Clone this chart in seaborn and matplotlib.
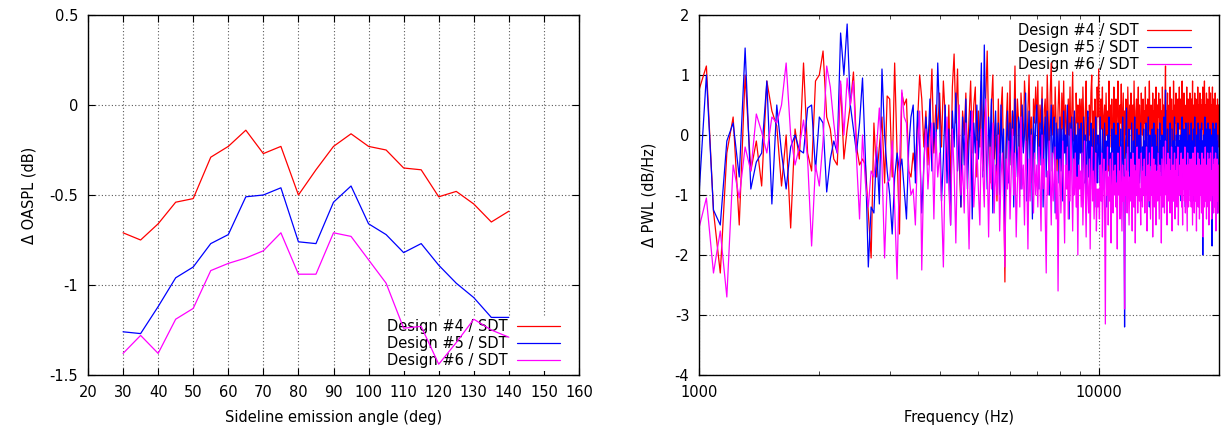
import numpy as np
import pandas as pd
import matplotlib
matplotlib.use("Agg")
import matplotlib.pyplot as plt
import matplotlib.ticker as mticker
import seaborn as sns

# ---- left panel: OASPL difference vs sideline angle ----
angles = [30, 35, 40, 45, 50, 55, 60, 65, 70, 75, 80, 85, 90, 95, 100, 105, 110, 115, 120, 125, 130, 135, 140]
oaspl_d4 = [-0.71, -0.75, -0.66, -0.54, -0.52, -0.29, -0.23, -0.14, -0.27, -0.23, -0.50, -0.36, -0.23,
            -0.16, -0.23, -0.25, -0.35, -0.36, -0.51, -0.48, -0.55, -0.65, -0.59]
oaspl_d5 = [-1.26, -1.27, -1.12, -0.96, -0.90, -0.77, -0.72, -0.51, -0.50, -0.46, -0.76, -0.77, -0.54,
            -0.45, -0.66, -0.72, -0.82, -0.77, -0.89, -0.99, -1.07, -1.18, -1.18]
oaspl_d6 = [-1.38, -1.28, -1.38, -1.19, -1.13, -0.92, -0.88, -0.85, -0.81, -0.71, -0.94, -0.94, -0.71,
            -0.73, -0.86, -0.99, -1.24, -1.23, -1.44, -1.32, -1.19, -1.25, -1.29]

# ---- right panel: PWL difference spectra (23 bins per kHz, 1 kHz .. 20 kHz) ----
freq = np.linspace(1000, 20000, 438)

pwl_d4 = [
    0.75, 1.15, -1.27, -2.3, -0.3, 0.3, -1.5, 1.0, -0.6, -0.1, -0.85, 0.9, 0.4, 0.15, -0.85, 0.0, -1.55, 0.1, -0.4, 1.2, -0.3, -0.6, 0.9,
    1.0, 1.4, 0.3, 0.1, -0.4, -0.5, 0.85, -0.4, 0.1, 0.5, 1.05, -0.2, -0.5, -0.4, -0.5, -1.3, -2.05, 0.2, -0.7, -0.2, 0.3, -0.8, 0.65,
    0.6, -0.7, 1.2, -0.3, -1.65, 0.7, 0.5, 0.6, -0.6, -0.7, -0.3, -0.6, 0.2, 1.0, 0.6, -0.2, 0.4, -0.5, 0.3, 1.1, -0.3, 0.5, 0.1,
    0.7, -0.2, 0.9, 0.3, -0.6, 0.5, -0.9, 0.8, 1.35, 0.2, 1.1, -0.4, -1.2, 0.4, 0.0, 0.7, -0.5, 0.3, 0.9, -0.3, 0.5, 0.8, -0.7,
    0.4, -0.2, 0.9, -0.6, 0.3, 0.6, 1.4, 0.1, -0.8, 0.5, 1.0, -0.4, 0.2, -1.1, 0.6, -0.3, 0.4, 0.8, -0.6, -2.45, 0.2, 0.7, -0.5,
    0.9, -0.5, 0.4, 0.0, 1.15, -0.3, 0.6, 0.2, -0.9, 0.7, 0.3, -0.2, 0.9, 0.5, -0.6, 0.4, 1.0, -0.1, 0.3, -0.8, 0.6, 0.2, 0.8,
    0.2, 0.9, -0.4, 0.5, 0.1, 0.8, -0.7, 0.4, 0.6, -0.2, 1.0, 0.3, -0.5, 0.7, 1.2, 0.0, 0.5, -0.3, 0.8, 0.2, -0.6, 0.4, 0.9,
    0.3, -0.4, 0.7, 0.1, 0.9, -0.2, 0.5, 0.2, -0.9, 0.6, 0.0, 0.8, -0.3, 0.4, 1.05, -0.1, 0.3, -0.6, 0.7, 0.2, 0.5, -0.4, 0.6,
    0.1, 0.6, -0.3, 0.8, 0.2, -0.5, 0.4, 0.9, -0.1, 0.3, -0.6, 0.5, 0.0, 0.7, 1.0, -0.2, 0.4, -0.7, 0.6, 0.2, -0.3, 0.8, 0.3,
    1.1, 0.2, -0.3, 0.6, 0.1, 0.8, -0.4, 0.3, 0.5, -0.1, 0.7, 0.0, 0.4, -0.6, 0.9, 0.2, 0.5, -0.2, 0.6, 0.1, -0.5, 0.8, 0.3,
    0.0, 0.6, -0.3, 0.4, 0.9, 0.1, -0.4, 0.5, 0.2, 0.85, -0.1, 0.3, 0.7, -0.5, 0.4, 0.0, 0.6, 0.2, -0.3, 0.8, 0.3, -0.2, 0.5,
    0.1, 0.7, -0.4, 0.3, 0.5, -0.1, 0.9, 0.2, -0.6, 0.4, 0.6, 0.0, 0.3, 0.8, -0.3, 0.5, 0.1, -0.2, 0.7, 0.3, 0.0, 0.6, -0.4,
    0.4, 0.2, 0.8, -0.2, 0.5, 0.0, 0.6, -0.5, 0.3, 0.9, 0.1, -0.1, 0.5, 0.3, -0.4, 0.7, 0.2, 0.4, -0.3, 0.6, 0.0, 0.8, 0.1,
    -0.2, 0.5, 0.3, 0.7, -0.4, 0.2, 0.6, 0.0, 0.4, -0.3, 0.8, 0.1, 0.5, -0.1, 0.3, 0.6, 1.15, -0.2, 0.4, 0.2, 0.7, -0.5, 0.3,
    0.5, 0.0, 0.8, 0.2, -0.3, 0.6, 0.1, 0.4, -0.2, 0.9, 0.3, -0.5, 0.5, 0.2, 0.7, -0.1, 0.4, 0.0, 0.6, -0.4, 0.3, 0.8, 0.1,
    0.2, 0.6, -0.3, 0.4, 0.9, 0.0, 0.3, -0.2, 0.7, 0.2, 0.5, -0.5, 0.4, 0.1, 0.8, -0.1, 0.3, 0.6, 0.0, 0.5, -0.3, 0.7, 0.2,
    0.4, -0.1, 0.6, 0.3, 0.9, -0.4, 0.2, 0.5, 0.0, 0.7, 0.3, -0.2, 0.6, 0.1, 0.4, -0.5, 0.8, 0.2, 0.5, -0.1, 0.3, 0.7, 0.0,
    0.6, 0.2, -0.3, 0.5, 0.1, 0.8, 0.3, -0.2, 0.4, 0.9, 0.0, 0.5, -0.4, 0.3, 0.7, 0.1, -0.1, 0.6, 0.2, 0.4, -0.3, 0.8, 0.2,
    0.3, 0.7, -0.2, 0.5, 0.0, 0.4, 0.8, -0.4, 0.2, 0.6, 0.1, 0.3, -0.1, 0.7, 0.2, 0.5, -0.3, 0.4, 0.0, 0.6, 0.2, -0.2, 0.5,
    0.3,
]

pwl_d5 = [
    -1.0, 1.0, -1.25, -1.5, -0.1, 0.2, -0.7, 1.45, -0.9, -0.45, -0.3, 0.9, -1.15, 0.5, -0.3, -0.9, -0.2, 0.0, -0.25, -0.3, 0.45, 0.5, -0.6,
    0.3, 0.2, -0.95, -0.4, -0.1, -0.3, 1.7, 1.0, 1.85, 0.5, 0.1, -0.3, 0.2, 0.95, -0.4, -2.2, -1.2, -1.3, -0.2, -1.15, 1.1, 0.0, -0.6,
    -1.0, -1.65, -0.7, -0.3, -0.6, -0.4, -0.9, -1.4, -0.2, 0.3, 0.5, -0.8, 0.4, -0.2, -1.3, -0.5, 0.3, -0.2, 0.6, -0.6, 0.2, -0.3, 1.2,
    0.3, -1.1, -0.4, 0.5, -0.8, 0.1, -1.5, 0.4, -0.2, 0.7, -0.6, 0.0, -1.2, 0.3, -0.5, 0.6, -0.9, -0.1, 0.4, -1.4, 0.2, -0.3, 0.5,
    -0.4, 0.2, 1.2, -0.7, 1.5, 0.1, -0.9, 0.3, -0.2, 0.6, -1.3, -0.1, 0.4, -0.6, 0.2, -1.0, 0.5, -0.3, 0.1, -1.6, -0.2, 0.4, -0.8,
    0.2, -0.5, 0.4, -1.2, 0.6, -0.1, -0.7, 0.3, 0.1, -0.9, 0.5, -0.3, 0.0, 0.7, -1.1, -0.2, 0.4, -0.6, 0.1, -1.4, 0.3, -0.4, 0.2,
    0.5, -0.3, -0.9, 0.2, -0.5, 0.6, -1.2, 0.0, 0.3, -0.7, 0.4, -0.2, -1.0, 0.1, 0.5, -0.6, -0.1, 0.3, -1.3, 0.2, -0.4, 0.1, -0.8,
    0.3, -0.6, 0.1, -1.1, 0.4, -0.3, 0.0, -0.8, 0.5, -0.2, -1.4, 0.2, -0.5, 0.3, -0.1, -0.9, 0.4, -0.4, 0.0, -1.2, 0.2, -0.6, 0.1,
    -0.3, 0.2, -1.0, -0.5, 0.3, -0.8, 0.0, -1.3, -0.2, 0.4, -0.7, -0.1, -1.1, 0.2, -0.4, -0.9, 0.1, -0.6, -1.2, 0.3, -0.3, -0.8, 0.0,
    -0.2, -0.8, 0.3, -0.5, -1.1, 0.1, -0.4, -0.9, 0.2, -0.6, -0.1, -1.2, 0.0, -0.5, 0.3, -0.8, -0.3, -1.0, 0.1, -0.4, -0.7, 0.2, -0.5,
    -0.9, 0.0, -0.4, -1.1, 0.2, -0.6, -0.2, -1.0, 0.1, -0.5, -0.8, 0.3, -0.3, -0.7, -3.2, -0.4, 0.0, 0.45, -0.9, -0.2, -0.6, 0.1, -1.1,
    -0.3, -0.7, 0.2, -0.5, -1.2, -0.1, -0.6, 0.3, -0.9, -0.2, -0.5, 0.1, -1.0, -0.4, 0.0, -0.8, -0.3, 0.2, -0.6, -1.1, -0.2, -0.5, 0.1,
    -0.7, -0.1, -1.0, 0.2, -0.4, -0.8, -0.2, 0.3, -0.6, -1.2, 0.0, -0.5, -0.3, -0.9, 0.1, -0.4, -0.7, 0.2, -1.1, -0.3, 0.0, -0.6, -0.2,
    -0.5, 0.1, -0.8, -0.3, -1.0, 0.2, -0.6, -0.1, -0.9, 0.0, -0.4, -1.2, -0.2, 0.3, -0.7, -0.4, 0.75, -0.5, -0.1, -0.9, 0.1, -0.6, -0.3,
    -1.0, -0.2, 0.2, -0.6, -0.3, -0.9, 0.1, -0.5, -1.1, -0.1, -0.4, 0.3, -0.8, -0.2, -0.6, 0.0, -1.0, -0.3, 0.2, -0.7, -0.4, -0.1, -0.9,
    0.0, -0.5, -1.1, -0.2, 0.3, -0.7, -0.4, -0.9, 0.1, -0.3, -0.6, -1.2, 0.2, -0.5, -0.1, -0.8, -0.3, 0.2, -1.0, -0.4, 0.0, -0.7, -0.2,
    -0.6, 0.2, -0.9, -0.3, -0.1, -1.1, 0.1, -0.5, -0.8, 0.3, -0.4, -0.2, -1.0, -0.6, 0.0, -0.3, -0.9, 0.2, -0.5, -1.2, -0.1, -0.4, 0.1,
    -0.8, -0.3, 0.2, -0.6, -0.1, -2.0, -0.4, 0.0, -0.9, -0.2, 0.3, -0.7, -0.5, -1.1, 0.1, -0.3, -0.8, -0.1, 0.2, -0.6, -1.0, -0.2, -0.5,
    0.1, -0.7, -0.3, -1.0, 0.0, -1.85, -0.4, 0.2, -0.8, -0.2, -0.6, 0.1, -1.1, -0.3, -0.5, 0.2, -0.9, -0.1, -0.6, -1.3, 0.0, -0.4, -0.8,
    -1.2,
]

pwl_d6 = [
    -1.55, -1.05, -2.3, -1.6, -2.7, -0.5, -1.05, -0.2, -0.6, 0.35, 0.05, -0.3, 0.3, 0.2, 0.5, 1.2, 0.0, -0.5, -0.2, 0.25, -0.4, -1.85, -0.5,
    -0.85, -0.1, 1.15, 0.8, 0.2, -0.3, 0.9, 0.0, 0.95, 0.5, 0.9, -0.4, -1.4, 0.0, -0.8, -1.2, -0.6, -0.7, -0.2, 0.45, -0.5, -2.05, -0.8,
    -0.75, -0.1, -1.2, -2.4, -0.5, 0.75, 0.3, 0.2, -0.6, -1.0, -0.9, -1.5, -0.2, 0.4, -2.25, -0.5, 0.1, -0.9, -0.3, 0.2, -1.4, 0.05, -0.7,
    -0.3, -1.1, -2.2, -0.4, 0.3, -0.9, -1.5, 0.1, -0.6, -1.8, -0.2, 0.5, -1.0, -0.5, -1.3, 0.2, -0.8, -1.9, -0.3, 0.4, -1.2, -0.7, -0.1,
    -0.9, -1.5, 0.1, -0.6, -1.2, 0.6, -0.4, -1.7, -0.2, -0.9, 0.2, -1.3, -0.5, -1.0, 0.0, -1.6, -0.7, -0.3, -1.1, -2.2, -0.4, -0.9, -0.1,
    -1.4, -0.6, 0.1, -1.0, -0.3, -1.7, -0.8, -0.2, -1.2, 0.3, -0.9, -0.5, -1.5, -0.1, -0.7, -1.9, -0.4, -1.1, 0.0, -0.8, -1.3, -0.3, -1.0,
    -0.5, -1.2, -0.2, -0.8, -1.6, 0.0, -0.9, -0.4, -1.3, -2.3, -0.6, -1.0, -0.1, -0.7, -1.5, -0.3, -1.1, -0.8, -0.2, -1.4, -0.6, -2.6, -0.9,
    -0.4, -1.3, -0.7, -0.1, -1.0, -1.8, -0.5, -0.9, -0.2, -1.4, -0.6, -1.1, 0.1, -0.8, -1.6, -0.4, -1.0, -0.3, -1.2, -0.7, -2.0, -0.5, -0.9,
    -0.6, -1.2, -0.3, -1.5, -0.8, -0.1, -1.0, -1.7, -0.5, -0.9, -1.3, -0.4, -1.9, -0.7, -0.2, -1.1, -0.6, -1.4, -0.8, -0.3, -1.6, -0.9, -1.2,
    -0.9, -1.4, -0.5, -1.1, -0.3, -1.7, -0.8, -0.4, -1.2, -3.15, -0.6, -1.0, -0.2, -1.5, -0.7, -1.1, -0.4, -1.8, -0.9, -0.3, -1.3, -0.6, -1.0,
    -0.5, -1.2, -0.8, -1.9, -0.3, -1.0, -0.6, -1.4, -0.2, -0.9, -1.6, -0.5, -1.1, -0.7, -2.9, -0.4, -1.0, -0.6, -1.3, -0.2, -0.8, -1.5, -0.7,
    -1.1, -0.4, -0.9, -1.6, -0.3, -0.8, -1.2, -0.5, -1.8, -0.6, -1.0, -0.2, -1.3, -0.7, -0.4, -1.1, -0.9, -1.5, -0.3, -0.8, -1.2, -0.6, -1.0,
    -0.4, -1.3, -0.7, -1.0, -0.2, -1.6, -0.8, -0.5, -1.1, -0.3, -0.9, -1.4, -0.6, -1.0, -0.2, -1.7, -0.7, -0.4, -1.2, -0.8, -0.5, -1.5, -0.9,
    -0.6, -1.1, -0.3, -0.9, -1.4, -0.5, -1.0, -0.7, -1.8, -0.4, -0.8, -1.2, -0.2, -0.9, -1.3, -0.6, -0.1, -1.0, -0.5, -1.5, -0.7, -0.3, -1.1,
    -0.8, -0.4, -1.3, -0.6, -1.0, -0.2, -1.6, -0.7, -0.5, -1.1, -0.9, -0.3, -1.4, -0.6, -1.0, -0.4, -1.2, -0.8, -0.2, -1.5, -0.7, -1.0, -0.5,
    -1.0, -0.6, -0.3, -1.2, -0.8, -1.5, -0.4, -0.9, -0.6, -1.1, -0.2, -1.3, -0.7, -0.5, -1.0, -1.6, -0.3, -0.8, -1.2, -0.5, -0.9, -0.4, -1.1,
    -0.7, -1.2, -0.4, -0.9, -1.5, -0.3, -1.0, -0.6, -1.3, -0.8, -0.2, -1.1, -0.7, -1.6, -0.5, -0.9, -0.3, -1.2, -0.8, -0.4, -1.4, -0.6, -1.0,
    -0.5, -0.9, -1.3, -0.3, -1.0, -0.7, -1.7, -0.4, -0.8, -1.2, -0.6, -0.2, -1.1, -0.8, -1.4, -0.5, -0.9, -0.3, -1.2, -0.7, -1.5, -0.4, -1.0,
    -0.8, -0.3, -1.1, -0.6, -1.4, -0.9, -0.2, -1.0, -0.5, -1.3, -0.7, -0.4, -1.2, -0.8, -0.3, -1.6, -0.6, -1.0, -0.4, -1.1, -0.7, -1.3, -0.5,
    -0.6,
]

design_labels = ["Design #4 / SDT", "Design #5 / SDT", "Design #6 / SDT"]
design_colors = ["#ff0000", "#0000ff", "#ff00ff"]

sns.set_style("ticks")
plt.rcParams["font.family"] = ["DejaVu Sans"]
plt.rcParams["font.size"] = 10.5
plt.rcParams["axes.unicode_minus"] = False
plt.rcParams["text.color"] = "black"
plt.rcParams["axes.labelcolor"] = "black"

fig = plt.figure(figsize=(12.24, 4.32), dpi=100)
ax1 = fig.add_axes([88 / 1224, 1 - 375 / 432, 491 / 1224, 360 / 432])
ax2 = fig.add_axes([699 / 1224, 1 - 375 / 432, 520 / 1224, 360 / 432])

grid_kw = dict(color="0.35", linestyle=(0, (1, 2)), linewidth=0.8)

# left panel
for vals, lab, col in zip([oaspl_d4, oaspl_d5, oaspl_d6], design_labels, design_colors):
    sns.lineplot(x=angles, y=vals, color=col, label=lab, linewidth=0.9, ax=ax1)
ax1.set_xlim(20, 160)
ax1.set_ylim(-1.5, 0.5)
ax1.set_xticks(np.arange(20, 161, 10))
ax1.set_yticks([-1.5, -1, -0.5, 0, 0.5])
ax1.yaxis.set_major_formatter(mticker.FuncFormatter(lambda v, p: f"{v:g}"))
ax1.set_xlabel("Sideline emission angle (deg)")
ax1.set_ylabel("Δ OASPL (dB)")
ax1.grid(True, **grid_kw)
ax1.yaxis.set_label_coords(-0.104, 0.5)
ax1.xaxis.set_label_coords(0.5, -0.097)

# right panel
ax2.set_xscale("log")
for vals, lab, col in zip([pwl_d4, pwl_d5, pwl_d6], design_labels, design_colors):
    sns.lineplot(x=freq, y=vals, color=col, label=lab, linewidth=0.9,
                 estimator=None, sort=False, ax=ax2)
ax2.set_xlim(1000, 20000)
ax2.set_ylim(-4, 2)
ax2.set_yticks(np.arange(-4, 3, 1))
ax2.xaxis.set_major_locator(mticker.FixedLocator([1000, 10000]))
ax2.xaxis.set_major_formatter(mticker.FuncFormatter(lambda v, p: f"{v:.0f}"))
ax2.xaxis.set_minor_locator(mticker.LogLocator(base=10, subs=np.arange(2, 10)))
ax2.xaxis.set_minor_formatter(mticker.NullFormatter())
ax2.set_xlabel("Frequency (Hz)")
ax2.set_ylabel("Δ PWL (dB/Hz)")
ax2.grid(True, which="major", **grid_kw)
ax2.yaxis.set_label_coords(-0.081, 0.5)
ax2.xaxis.set_label_coords(0.5, -0.097)

for ax in (ax1, ax2):
    ax.set_axisbelow(True)
    for sp in ax.spines.values():
        sp.set_color("black")
        sp.set_linewidth(1.0)
        sp.set_visible(True)
    ax.tick_params(which="major", direction="in", top=True, right=True, length=5, width=0.8,
                   labelsize=10.5, colors="black", pad=7)
    ax.tick_params(which="minor", direction="in", top=True, right=True, length=3, width=0.6)

leg1 = ax1.legend(loc="lower right", bbox_to_anchor=(0.968, 0.012), markerfirst=False,
                  frameon=True, fancybox=False, edgecolor="none", framealpha=1.0,
                  handlelength=3.0, handletextpad=0.6, labelspacing=0.12, borderpad=0.2,
                  borderaxespad=0, fontsize=10.5)
leg1.set_zorder(1.5)
leg2 = ax2.legend(loc="upper right", bbox_to_anchor=(0.952, 0.985), markerfirst=False,
                  frameon=False, handlelength=3.0, handletextpad=0.6, labelspacing=0.12,
                  borderpad=0.2, borderaxespad=0, fontsize=10.5)
leg2.set_zorder(1.5)

fig.savefig("out.png", dpi=100)
